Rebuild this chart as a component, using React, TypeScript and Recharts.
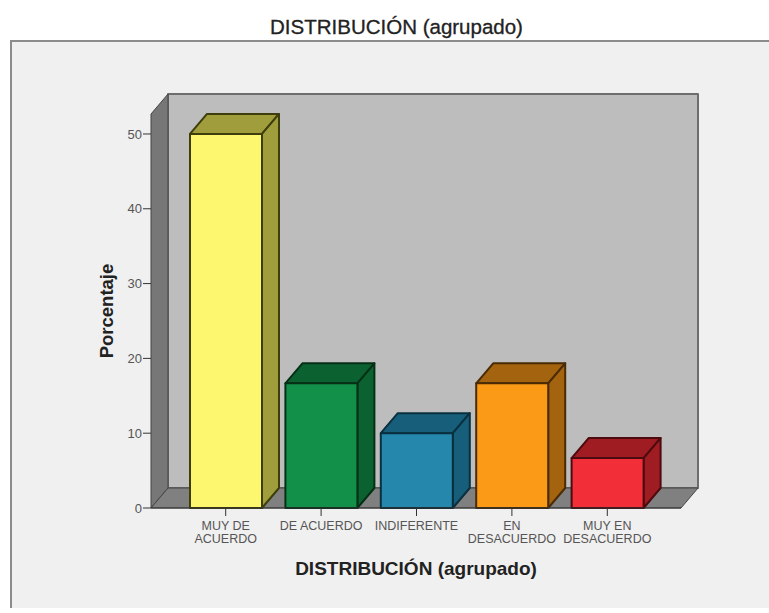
import React from "react";
import { BarChart, Bar, XAxis, YAxis, ReferenceArea, Label } from "recharts";

// Survey answers, as percentages
const categories = ["MUY DE ACUERDO", "DE ACUERDO", "INDIFERENTE", "EN DESACUERDO", "MUY EN DESACUERDO"];
const percentages = [50, 16.67, 10, 16.67, 6.67];
const yTicks = [0, 10, 20, 30, 40, 50];
const yMax = 52.67;

const tickLines: Record<string, string[]> = {
  "MUY DE ACUERDO": ["MUY DE", "ACUERDO"],
  "DE ACUERDO": ["DE ACUERDO"],
  INDIFERENTE: ["INDIFERENTE"],
  "EN DESACUERDO": ["EN", "DESACUERDO"],
  "MUY EN DESACUERDO": ["MUY EN", "DESACUERDO"],
};

const frontColors = ["#FCF76E", "#128F48", "#2587AC", "#FB9A16", "#F22F38"];
const sideColors = ["#A09E3C", "#0B6130", "#175E7A", "#A3630F", "#9E1C22"];
const edgeColors = ["#3E3E0C", "#053016", "#0A3040", "#4A2B04", "#4E0B0F"];

const fontFamily = "'Liberation Sans', Arial, sans-serif";
const depthX = 17;
const depthY = 20;
const padLeft = 27;
const padRight = 26;

const pts = (list: number[][]) => list.map((p) => p.join(",")).join(" ");

// Box with a top and a right face, sized from the bar rectangle
function Bar3D(props: any) {
  const { x, y, width, height, index } = props;
  const r = x + width;
  const b = y + height;
  return (
    <g stroke={edgeColors[index]} strokeWidth={2} strokeLinejoin="round">
      <polygon
        points={pts([[x, y], [r, y], [r + depthX, y - depthY], [x + depthX, y - depthY]])}
        fill={sideColors[index]}
      />
      <polygon
        points={pts([[r, y], [r + depthX, y - depthY], [r + depthX, b - depthY], [r, b]])}
        fill={sideColors[index]}
      />
      <rect x={x} y={y} width={width} height={height} fill={frontColors[index]} />
    </g>
  );
}

// Back wall, left wall and floor; the area it gets stops at the axis padding
function Room(props: any) {
  const { y, height } = props;
  const x = props.x - padLeft;
  const r = props.x + props.width + padRight;
  const b = y + height;
  return (
    <g strokeLinejoin="round">
      <rect x={x + depthX} y={y - depthY} width={r - x} height={height} fill="#BDBDBD" stroke="#6E6E6E" strokeWidth={2} />
      <polygon
        points={pts([[x, b], [x + depthX, b - depthY], [x + depthX, y - depthY], [x, y]])}
        fill="#777777"
        stroke="#444444"
      />
      <polygon
        points={pts([[x, b], [r, b], [r + depthX, b - depthY], [x + depthX, b - depthY]])}
        fill="#808080"
        stroke="#444444"
      />
    </g>
  );
}

function CategoryTick(props: any) {
  const { x, y, payload } = props;
  const lines = tickLines[payload.value] ?? [payload.value];
  return (
    <text x={x} y={y} textAnchor="middle" fontFamily={fontFamily} fontSize={12.5} fill="#555555">
      {lines.map((line, i) => (
        <tspan key={line} x={x} dy={i === 0 ? 12 : 13}>
          {line}
        </tspan>
      ))}
    </text>
  );
}

export default function App() {
  const data = categories.map((name, i) => ({ name, value: percentages[i] }));

  return (
    <div style={{ position: "absolute", left: 0, top: 0, width: 769, height: 613, background: "#FFFFFF", overflow: "hidden" }}>
      <div
        style={{
          position: "absolute",
          left: 10,
          top: 40,
          width: 759,
          height: 566,
          background: "#F0F0F0",
          borderLeft: "2px solid #8C8C8C",
          borderTop: "2px solid #8C8C8C",
        }}
      />
      <div
        style={{
          position: "absolute",
          left: 0,
          top: 15,
          width: 793,
          textAlign: "center",
          fontFamily,
          fontSize: 20.5,
          color: "#222222",
          WebkitTextStroke: "0.3px #222222",
        }}
      >
        DISTRIBUCIÓN (agrupado)
      </div>
      <div style={{ position: "absolute", left: 0, top: 0 }}>
        <BarChart
          width={769}
          height={613}
          data={data}
          barSize={72}
          margin={{ top: 114, right: 88, bottom: 0, left: 0 }}
        >
          <ReferenceArea y1={0} y2={yMax} ifOverflow="visible" shape={<Room />} />
          <XAxis
            dataKey="name"
            height={105}
            interval={0}
            padding={{ left: padLeft, right: padRight }}
            stroke="#333333"
            tickSize={8}
            tick={<CategoryTick />}
          >
            <Label
              value="DISTRIBUCIÓN (agrupado)"
              position="insideBottom"
              offset={38}
              style={{ fontFamily, fontSize: 19, fontWeight: 700, fill: "#222222" }}
            />
          </XAxis>
          <YAxis
            width={151}
            domain={[0, yMax]}
            ticks={yTicks}
            axisLine={false}
            tickSize={8}
            tickMargin={1}
            stroke="#333333"
            tick={{ fontFamily, fontSize: 13, fill: "#555555" }}
          >
            <Label
              value="Porcentaje"
              angle={-90}
              position="insideLeft"
              offset={106}
              style={{ fontFamily, fontSize: 18.5, fontWeight: 700, fill: "#222222", textAnchor: "middle" }}
            />
          </YAxis>
          <Bar dataKey="value" isAnimationActive={false} shape={<Bar3D />} />
        </BarChart>
      </div>
    </div>
  );
}
